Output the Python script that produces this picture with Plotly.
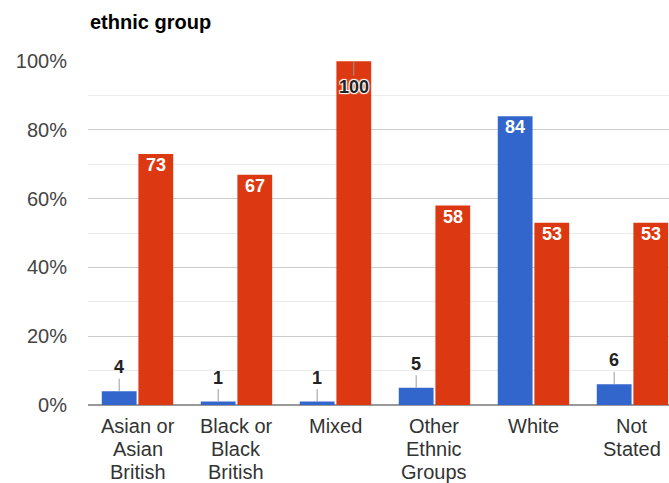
import plotly.graph_objects as go

categories = ["Asian or<br>Asian<br>British", "Black or<br>Black<br>British", "Mixed",
              "Other<br>Ethnic<br>Groups", "White", "Not<br>Stated"]
series_blue = [4, 1, 1, 5, 84, 6]
series_red = [73, 67, 100, 58, 53, 53]
y_ticks = [0, 20, 40, 60, 80, 100]
y_tick_text = ["0%", "20%", "40%", "60%", "80%", "100%"]

BLUE = "#3366CC"
RED = "#DC3912"
FONT = "Liberation Sans, Arial, sans-serif"

xs = list(range(len(categories)))
bargap = 0.26
off = (1 - bargap) / 4

fig = go.Figure()
fig.add_bar(x=xs, y=series_blue, marker_color=BLUE, marker_line_width=0, name="a", hoverinfo="skip")
fig.add_bar(x=xs, y=series_red, marker_color=RED, marker_line_width=0, name="b", hoverinfo="skip")

annotations = []
SMALL_LIMIT = 15
for vals, sign in ((series_blue, -1), (series_red, 1)):
    for i, v in enumerate(vals):
        x = i + sign * off
        if v >= 100:
            annotations.append(dict(
                x=x, y=v, xref="x", yref="y", text=f"<b>{v}</b>", showarrow=True,
                ax=0, ay=26, arrowhead=0, arrowwidth=1, arrowcolor="#999999", standoff=0,
                font=dict(family=FONT, size=18, color="#222222",
                          shadow="1px 1px 1px white, -1px -1px 1px white, 1px -1px 1px white, -1px 1px 1px white")))
        elif v < SMALL_LIMIT:
            annotations.append(dict(
                x=x, y=v, xref="x", yref="y", text=f"<b>{v}</b>", showarrow=True,
                ax=0, ay=-24, arrowhead=0, arrowwidth=1, arrowcolor="#999999", standoff=0,
                font=dict(family=FONT, size=18, color="#222222")))
        else:
            annotations.append(dict(
                x=x, y=v, xref="x", yref="y", text=f"<b>{v}</b>", showarrow=False,
                yanchor="middle", yshift=-11,
                font=dict(family=FONT, size=18, color="#FFFFFF")))

# category labels, one annotation per line
LINE_H = 23
for i, c in enumerate(categories):
    for j, line in enumerate(c.split("<br>")):
        annotations.append(dict(
            x=i, y=0, xref="x", yref="y", text=line, showarrow=False,
            yanchor="middle", yshift=-(21 + j * LINE_H),
            font=dict(family=FONT, size=20, color="#333333")))

annotations.append(dict(
    xref="x domain", yref="paper", x=0, y=1, xanchor="left", yanchor="bottom",
    yshift=26, text="<b>ethnic group</b>", showarrow=False,
    font=dict(family=FONT, size=20, color="#000000")))

fig.update_layout(
    width=669, height=483,
    margin=dict(l=88, r=0, t=61, b=78, pad=0),
    paper_bgcolor="white", plot_bgcolor="white",
    barmode="group", bargap=bargap, bargroupgap=0.05,
    showlegend=False,
    annotations=annotations,
    font=dict(family=FONT, size=20, color="#333333"),
)
fig.update_xaxes(range=[-0.5, 5.369], showticklabels=False, showgrid=False, zeroline=False,
                 showline=False, fixedrange=True)
fig.update_yaxes(range=[0, 100.05], tickvals=y_ticks, ticktext=y_tick_text,
                 tickfont=dict(family=FONT, size=20, color="#444444"),
                 showgrid=True, gridcolor="#CCCCCC", gridwidth=1,
                 minor=dict(dtick=10, showgrid=True, gridcolor="#EBEBEB", gridwidth=1),
                 zeroline=True, zerolinecolor="#999999", zerolinewidth=2,
                 ticks="", ticklabelstandoff=20, showline=False, fixedrange=True)

fig.write_html("out.html")
